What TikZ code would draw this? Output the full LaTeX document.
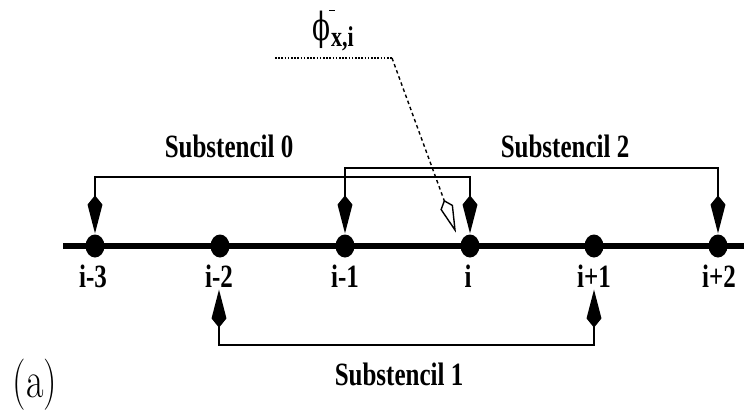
\documentclass[tikz,border=0pt]{standalone}
\usepackage{fontspec}
\newfontfamily\tms{Liberation Serif}
\newfontfamily\djs{DejaVu Serif}
\usetikzlibrary{arrows.meta,shapes.geometric}
\newcommand{\vsc}[1]{\scalebox{1}[1.3]{#1}}
\pgfdeclarearrow{
  name=MK,
  parameters={\the\pgfarrowlength,\the\pgfarrowwidth,\the\pgfarrowinset,\ifpgfarrowopen o\fi},
  setup code={
    \pgfarrowssettipend{\pgfarrowlength}
    \pgfarrowssetbackend{0pt}
    \pgfarrowssetlineend{.5\pgfarrowinset}
    \pgfarrowssavethe\pgfarrowlength
    \pgfarrowssavethe\pgfarrowwidth
    \pgfarrowssavethe\pgfarrowinset
  },
  drawing code={
    \pgfsetdash{}{0pt}
    \pgfsetmiterjoin
    \pgfpathmoveto{\pgfqpoint{\pgfarrowlength}{0pt}}
    \pgfpathlineto{\pgfqpoint{\pgfarrowinset}{.5\pgfarrowwidth}}
    \pgfpathlineto{\pgfqpoint{0pt}{0pt}}
    \pgfpathlineto{\pgfqpoint{\pgfarrowinset}{-.5\pgfarrowwidth}}
    \pgfpathclose
    \ifpgfarrowopen\pgfusepathqstroke\else\pgfusepathqfillstroke\fi
  },
  defaults={length=34pt,width=13pt,inset=8pt}
}
\begin{document}
\begin{tikzpicture}[x=1pt,y=-1pt,
  dot/.style={ellipse,fill=black,minimum width=19pt,minimum height=23pt,inner sep=0pt},
  lbl/.style={font=\tms\bfseries\fontsize{25}{25}\selectfont, inner sep=0pt, anchor=base},
  kt/.tip={MK[length=33pt,width=13pt,inset=8pt]},
  okt/.tip={MK[open,length=31pt,width=12pt,inset=7pt]},
  brk/.style={line width=1.8pt, kt-kt},
  axis/.style={line width=6pt}]
\useasboundingbox (0,0) rectangle (744,415);

% axis
\coordinate (axL) at (63,246);
\coordinate (axR) at (744,246);
\draw[axis] (axL) -- (axR);

% dots
\node[dot] (dm3) at (95,246) {};
\node[dot] (dm2) at (220,246) {};
\node[dot] (dm1) at (345,246) {};
\node[dot] (d0)  at (470,246) {};
\node[dot] (dp1) at (594,246) {};
\node[dot] (dp2) at (718,246) {};

% labels
\node[lbl] (lm3) at (93,287) {\vsc{i-3}};
\node[lbl] (lm2) at (219,287) {\vsc{i-2}};
\node[lbl] (lm1) at (345,287) {\vsc{i-1}};
\node[lbl] (l0)  at (468,287) {\vsc{i}};
\node[lbl] (lp1) at (594,287) {\vsc{i+1}};
\node[lbl] (lp2) at (719,287) {\vsc{i+2}};

% substencils
\coordinate (s0) at (280,177);
\coordinate (s2) at (530,168);
\coordinate (s1) at (400,345);
\draw[brk, shorten <=4.5pt, shorten >=4.5pt] (dm3.north) |- (s0) -| (d0.north);
\draw[brk, shorten <=4.5pt, shorten >=4.5pt] (dm1.north) |- (s2) -| (dp2.north);
\draw[brk, shorten <=6pt, shorten >=6pt] (lm2.south) |- (s1) -| (lp1.south);

\node[lbl] (t0) at (229,157) {\vsc{Substencil 0}};
\node[lbl] (t2) at (565,157) {\vsc{Substencil 2}};
\node[lbl] (t1) at (399,385) {\vsc{Substencil 1}};

% phi label with pointer
\node[anchor=base west, inner sep=0pt, font=\tms] (phi) at (312,40)
  {\scalebox{0.85}[1.25]{\djs\fontsize{31}{31}\selectfont ϕ}\kern1pt\raisebox{-6pt}{\vsc{\fontsize{22}{22}\selectfont\bfseries x,i}}\llap{\rule[29pt]{6pt}{1.3pt}\kern19pt}};
\coordinate (pA) at (275,58);
\coordinate (pB) at (392,58);
\coordinate (pT) at (455,230);
\draw[line width=1.4pt, dash pattern=on 1.6pt off 1.6pt] (pA) -- (pB);
\draw[line width=1.4pt, dash pattern=on 3.5pt off 3pt, -okt] (pB) -- (pT);

% panel tag
\node[anchor=base, inner sep=0pt, font=\fontsize{38}{38}\selectfont] (tag) at (35,397) {\scalebox{1}[1.35]{(a)}};
\end{tikzpicture}
\end{document}
